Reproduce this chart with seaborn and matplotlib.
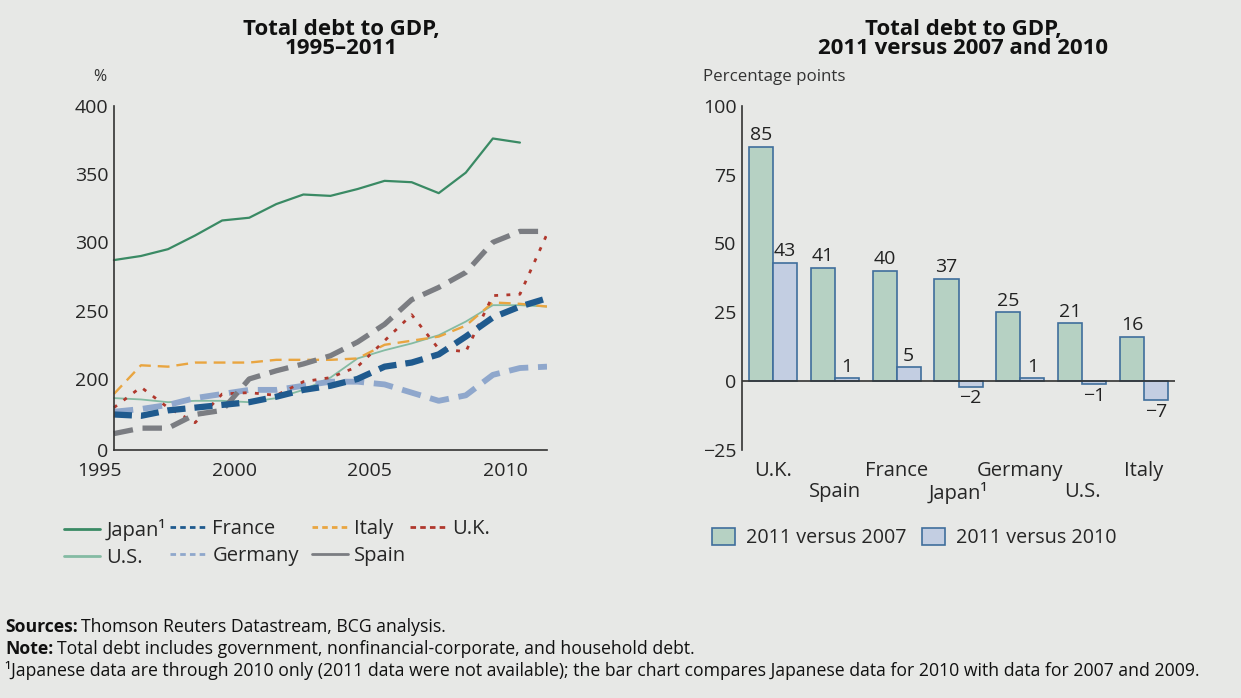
import numpy as np
import pandas as pd
import matplotlib
matplotlib.use("Agg")
import matplotlib.pyplot as plt
import seaborn as sns
from matplotlib.lines import Line2D
from matplotlib.patches import Patch

# ---------------- data ----------------
years = list(range(1995, 2012))
japan = [287, 290, 295, 305, 316, 318, 328, 335, 334, 339, 345, 344, 336, 351, 376, 373]  # through 2010
us = [186, 185, 183, 184, 184, 183, 186, 192, 201, 215, 221, 226, 232, 242, 254, 254, 253]
france = [174, 173, 177, 179, 181, 183, 187, 192, 195, 200, 209, 212, 218, 231, 245, 253, 259]
germany = [176, 178, 181, 186, 189, 192, 192, 195, 198, 198, 196, 190, 184, 188, 203, 208, 209]
italy = [189, 210, 209, 212, 212, 212, 214, 214, 214, 215, 225, 228, 231, 239, 256, 255, 253]
uk = [179, 194, 179, 168, 189, 190, 188, 198, 201, 209, 228, 247, 222, 220, 261, 262, 306]
spain = [160, 164, 164, 174, 177, 200, 206, 211, 217, 227, 240, 258, 267, 278, 300, 308, 308]

x_tick_labels = ["1995", "2000", "2005", "2010"]
y_tick_labels = ["0", "200", "250", "300", "350", "400"]

bar_countries = ["U.K.", "Spain", "France", "Japan¹", "Germany", "U.S.", "Italy"]
vs_2007 = [85, 41, 40, 37, 25, 21, 16]
vs_2010 = [43, 1, 5, -2, 1, -1, -7]
bar_series = ["2011 versus 2007", "2011 versus 2010"]

# ---------------- style ----------------
BG = "#e7e8e6"
sns.set_theme(style="white")
plt.rcParams["font.family"] = ["Open Sans", "DejaVu Sans"]
plt.rcParams["lines.scale_dashes"] = False
plt.rcParams["axes.facecolor"] = BG
plt.rcParams["figure.facecolor"] = BG

W, H = 1241, 698
fig = plt.figure(figsize=(W / 100, H / 100), dpi=100)

def fx(px):
    return px / W

def fy(py):
    return 1 - py / H

TICK = 14

# ---------------- left chart ----------------
axL = fig.add_axes([fx(99), fy(450), fx(547 - 99), (450 - 105.7) / H])
axL.set_facecolor(BG)
axL.spines["left"].set_position(("data", 1995))

line_specs = [
    ("Japan", japan, "#3a8a64", 1.6, "-"),
    ("U.S.", us, "#84bba3", 1.3, "-"),
    ("Italy", italy, "#e9a540", 1.7, (0, (8.5, 5))),
    ("Germany", germany, "#8fa7cc", 4.2, (0, (14, 7))),
    ("U.K.", uk, "#b0382d", 2.0, (0, (2.8, 6))),
    ("Spain", spain, "#7b7d82", 3.8, (0, (14, 7))),
    ("France", france, "#1f5a8e", 4.5, (0, (13, 6.5))),
]
for name, vals, col, lw, ls in line_specs:
    sns.lineplot(x=years[: len(vals)], y=vals, ax=axL, color=col,
                 linewidth=lw, linestyle=ls, legend=False)

axL.set_xlim(1994.45, 2011)
axL.set_ylim(148, 400)
axL.set_xticks([1994.45, 1999.45, 2004.45, 2009.45])
axL.set_xticklabels(x_tick_labels)
axL.set_yticks([148, 200, 250, 300, 350, 400])
axL.set_yticklabels(y_tick_labels)
axL.tick_params(axis="x", length=0, pad=9, labelsize=TICK)
axL.tick_params(axis="y", length=0, pad=4, labelsize=TICK)
axL.spines["bottom"].set_bounds(1995, 2011)
for s in ["top", "right"]:
    axL.spines[s].set_visible(False)
for s in ["left", "bottom"]:
    axL.spines[s].set_color("#333333")
    axL.spines[s].set_linewidth(1.2)
axL.set_xlabel("")
axL.set_ylabel("")

fig.text(fx(100), fy(77), "%", fontsize=11.5, ha="center", va="center", color="#333333")

# legend left: four columns placed like the reference
def lh(col, dashed):
    return Line2D([], [], color=col, lw=2, ls=(0, (4, 3)) if dashed else "-")

legend_cols = [
    (64, [lh("#3a8a64", False), lh("#84bba3", False)], ["Japan¹", "U.S."]),
    (170, [lh("#1f5a8e", True), lh("#8fa7cc", True)], ["France", "Germany"]),
    (312, [lh("#e9a540", True), lh("#7b7d82", False)], ["Italy", "Spain"]),
    (410, [lh("#b0382d", True)], ["U.K."]),
]
for px, hs, ls_ in legend_cols:
    fig.legend(hs, ls_, loc="upper left", bbox_to_anchor=(fx(px), fy(519)),
               ncol=1, frameon=False, fontsize=14.5, handlelength=1.8, handletextpad=0.3,
               labelspacing=0.35, borderaxespad=0, borderpad=0)

fig.text(fx(341), fy(39), "Total debt to GDP,\n1995–2011", ha="center", va="center",
         fontsize=16, fontweight="bold", linespacing=0.92, color="#111111")

# ---------------- right chart ----------------
axR = fig.add_axes([fx(742), fy(450), fx(1175 - 742), (450 - 105.7) / H])
axR.set_facecolor(BG)

df = pd.DataFrame({
    "country": bar_countries * 2,
    "value": vs_2007 + vs_2010,
    "series": [bar_series[0]] * len(bar_countries) + [bar_series[1]] * len(bar_countries),
})
bar_colors = {bar_series[0]: "#b6d1c3", bar_series[1]: "#c3cee2"}
sns.barplot(data=df, x="country", y="value", hue="series", palette=bar_colors,
            width=0.78, edgecolor="#3f6e9c", linewidth=1.2, ax=axR, legend=False,
            saturation=1)
for cont in axR.containers:
    labels = [("−" + str(abs(int(v)))) if v < 0 else str(int(v)) for v in cont.datavalues]
    axR.bar_label(cont, labels=labels, padding=2, fontsize=TICK, color="#222222")

axR.set_xlim(-0.5, 6.5)
axR.set_ylim(-25, 100)
axR.set_yticks([-25, 0, 25, 50, 75, 100])
axR.set_yticklabels(["−25", "0", "25", "50", "75", "100"])
even = [i for i in range(len(bar_countries)) if i % 2 == 0]
odd = [i for i in range(len(bar_countries)) if i % 2 == 1]
axR.set_xticks(even)
axR.set_xticklabels([bar_countries[i] for i in even])
axR.set_xticks(odd, minor=True)
axR.set_xticklabels([bar_countries[i] for i in odd], minor=True)
axR.tick_params(axis="x", which="major", length=0, pad=8, labelsize=14.5)
axR.tick_params(axis="x", which="minor", length=0, pad=23, labelsize=14.5)
axR.tick_params(axis="y", length=0, pad=4, labelsize=TICK)
axR.axhline(0, color="#333333", lw=1.2, zorder=5)
for s in ["top", "right", "bottom"]:
    axR.spines[s].set_visible(False)
axR.spines["left"].set_color("#333333")
axR.spines["left"].set_linewidth(1.2)
axR.set_xlabel("")
axR.set_ylabel("")

fig.text(fx(703), fy(77), "Percentage points", fontsize=12.2, ha="left", va="center",
         color="#333333")
fig.text(fx(963), fy(39), "Total debt to GDP,\n2011 versus 2007 and 2010", ha="center",
         va="center", fontsize=16, fontweight="bold", linespacing=0.92, color="#111111")

bar_handles = [Patch(facecolor=bar_colors[s], edgecolor="#3f6e9c", linewidth=1.2)
               for s in bar_series]
fig.legend(bar_handles, bar_series, loc="center left", bbox_to_anchor=(fx(712), fy(538)),
           ncol=2, frameon=False, fontsize=14.2, handlelength=1.17, handleheight=0.95,
           handletextpad=0.56, columnspacing=0.76, borderaxespad=0, borderpad=0)

# ---------------- footer ----------------
renderer = fig.canvas.get_renderer()
FOOT = 12.7

def rich_line(px, py, bold, rest, size=FOOT):
    t = fig.text(fx(px), fy(py), bold, fontsize=size, fontweight="bold", ha="left",
                 va="center", color="#111111")
    bb = t.get_window_extent(renderer=renderer)
    fig.text(bb.x1 / W + 0.003, fy(py), rest, fontsize=size, ha="left", va="center",
             color="#111111")

rich_line(5, 627, "Sources:", "Thomson Reuters Datastream, BCG analysis.")
rich_line(5, 649, "Note:", "Total debt includes government, nonfinancial-corporate, and household debt.")
fig.text(fx(5), fy(670), "¹Japanese data are through 2010 only (2011 data were not available); "
         "the bar chart compares Japanese data for 2010 with data for 2007 and 2009.",
         fontsize=FOOT, ha="left", va="center", color="#111111")

fig.savefig("out.png", dpi=100, facecolor=BG)
